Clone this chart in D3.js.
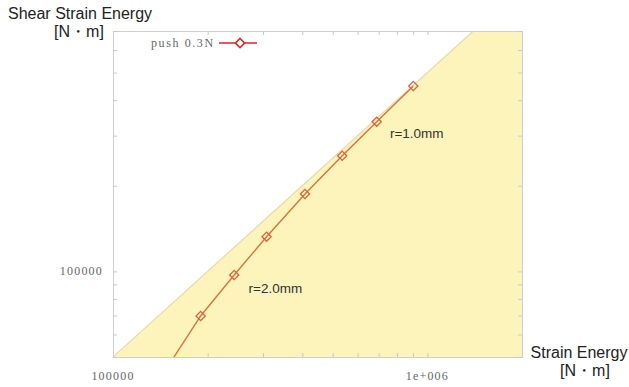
<!doctype html>
<html>
  <head>
    <meta charset="utf-8">
    <title>Shear Strain Energy vs Strain Energy</title>
    <script src="https://cdnjs.cloudflare.com/ajax/libs/d3/7.8.5/d3.min.js"></script>
    <style>
      body { margin: 0; background: #fff; }
      .tick line { stroke: #c8c8c8; }
      .domain { stroke: #cfcfcf; }
      .ticklabel { font-family: "Liberation Serif", "DejaVu Serif", serif; font-size: 12px; fill: #666; letter-spacing: 1.2px; }
      .legend { font-family: "Liberation Serif", "DejaVu Serif", serif; font-size: 12px; fill: #666; letter-spacing: 1.6px; }
      .title { font-family: "Liberation Sans", Arial, sans-serif; font-size: 16px; fill: #222; }
      .note { font-family: "Liberation Sans", Arial, sans-serif; font-size: 13.5px; fill: #333; }
    </style>
  </head>
  <body>
    <div id="chart"></div>
    <script>
      // strain energy [N·m]
      const strainEnergy = [145000, 190000, 243000, 308000, 408000, 536000, 690000, 902000];
      // shear strain energy [N·m]
      const shearEnergy = [44000, 69700, 97100, 132400, 187100, 255000, 336000, 448500];
      // the first point is below the axis range, only its line segment shows
      const visiblePoint = [false, true, true, true, true, true, true, true];

      const xDomain = [1e5, 2e6];
      const yDomain = [5e4, 7e5];
      const xTickLabels = {100000: "100000", 1000000: "1e+006"};
      const yTickLabels = {100000: "100000"};
      const seriesName = "push 0.3N";
      const notes = [
        {text: "r=1.0mm", x: 760000, y: 295000},
        {text: "r=2.0mm", x: 270000, y: 84000}
      ];

      const W = 629, H = 387;
      const m = {left: 113, right: 522, top: 31, bottom: 357};

      const svg = d3.select("#chart").append("svg")
        .attr("width", W).attr("height", H);

      const x = d3.scaleLog().domain(xDomain).range([m.left, m.right]);
      const y = d3.scaleLog().domain(yDomain).range([m.bottom, m.top]);

      svg.append("clipPath").attr("id", "clip")
        .append("rect")
        .attr("x", m.left).attr("y", m.top)
        .attr("width", m.right - m.left).attr("height", m.bottom - m.top);

      // region where shear strain energy <= strain energy / 2
      const xTop = yDomain[1] * 2;
      const region = [
        [xDomain[0], xDomain[0] / 2],
        [xTop, yDomain[1]],
        [xDomain[1], yDomain[1]],
        [xDomain[1], yDomain[0]],
        [xDomain[0], yDomain[0]]
      ];
      svg.append("path")
        .attr("clip-path", "url(#clip)")
        .attr("d", d3.line().x(d => x(d[0])).y(d => y(d[1]))(region) + "Z")
        .attr("fill", "#fcf4bb");
      svg.append("line")
        .attr("clip-path", "url(#clip)")
        .attr("x1", x(xDomain[0])).attr("y1", y(xDomain[0] / 2))
        .attr("x2", x(xTop)).attr("y2", y(yDomain[1]))
        .attr("stroke", "#e2dcae").attr("stroke-width", 1.2);

      // axes, ticks pointing inward on all four sides
      const xTicks = [];
      for (let d = 1e5; d <= 1e6; d *= 10)
        for (let k = 1; k <= 9; k++) if (d * k <= xDomain[1]) xTicks.push(d * k);
      xTicks.push(2e6);
      const yTicks = [];
      for (let d = 1e4; d <= 1e5; d *= 10)
        for (let k = 1; k <= 9; k++) if (d * k >= yDomain[0] && d * k <= yDomain[1]) yTicks.push(d * k);

      svg.append("g").attr("transform", `translate(0,${m.bottom})`)
        .call(d3.axisBottom(x).tickValues(xTicks).tickSize(-4).tickFormat(""));
      svg.append("g").attr("transform", `translate(0,${m.top})`)
        .call(d3.axisTop(x).tickValues(xTicks).tickSize(-4).tickFormat(""));
      svg.append("g").attr("transform", `translate(${m.left},0)`)
        .call(d3.axisLeft(y).tickValues(yTicks).tickSize(-4).tickFormat(""));
      svg.append("g").attr("transform", `translate(${m.right},0)`)
        .call(d3.axisRight(y).tickValues(yTicks).tickSize(-4).tickFormat(""));
      svg.selectAll(".domain").attr("stroke", "#cfcfcf");

      // tick labels
      Object.keys(xTickLabels).forEach(v => {
        svg.append("text").attr("class", "ticklabel")
          .attr("x", x(+v)).attr("y", 380).attr("text-anchor", "middle")
          .text(xTickLabels[v]);
      });
      Object.keys(yTickLabels).forEach(v => {
        svg.append("text").attr("class", "ticklabel")
          .attr("x", m.left - 10).attr("y", y(+v) + 4).attr("text-anchor", "end")
          .text(yTickLabels[v]);
      });

      // axis titles
      svg.append("text").attr("class", "title").attr("x", 8).attr("y", 19).text("Shear Strain Energy");
      svg.append("text").attr("class", "title").attr("x", 79).attr("y", 37).attr("text-anchor", "middle").text("[N・m]");
      svg.append("text").attr("class", "title").attr("x", 579).attr("y", 358).attr("text-anchor", "middle").text("Strain Energy");
      svg.append("text").attr("class", "title").attr("x", 585).attr("y", 376).attr("text-anchor", "middle").text("[N・m]");

      // data
      const pts = strainEnergy.map((v, i) => ({x: v, y: shearEnergy[i], show: visiblePoint[i]}));
      const lineColor = "#d9733c";
      svg.append("path")
        .attr("clip-path", "url(#clip)")
        .attr("d", d3.line().x(d => x(d.x)).y(d => y(d.y))(pts))
        .attr("fill", "none").attr("stroke", lineColor).attr("stroke-width", 1.4);

      const diamond = d3.symbol().type(d3.symbolSquare).size(42);
      svg.selectAll(".pt").data(pts.filter(d => d.show)).join("path")
        .attr("class", "pt")
        .attr("d", diamond)
        .attr("transform", d => `translate(${x(d.x)},${y(d.y)}) rotate(45)`)
        .attr("fill", "none").attr("stroke", "#e0603a").attr("stroke-width", 1.3);

      // annotations
      svg.selectAll(".note").data(notes).join("text")
        .attr("class", "note")
        .attr("x", d => x(d.x)).attr("y", d => y(d.y))
        .text(d => d.text);

      // legend
      svg.append("text").attr("class", "legend")
        .attr("x", 151).attr("y", 47).text(seriesName);
      svg.append("line").attr("x1", 219).attr("x2", 257).attr("y1", 43).attr("y2", 43)
        .attr("stroke", "#d42a2a").attr("stroke-width", 1.6);
      svg.append("path").attr("d", diamond)
        .attr("transform", "translate(240,43) rotate(45)")
        .attr("fill", "#fff").attr("stroke", "#d42a2a").attr("stroke-width", 1.6);
    </script>
  </body>
</html>
